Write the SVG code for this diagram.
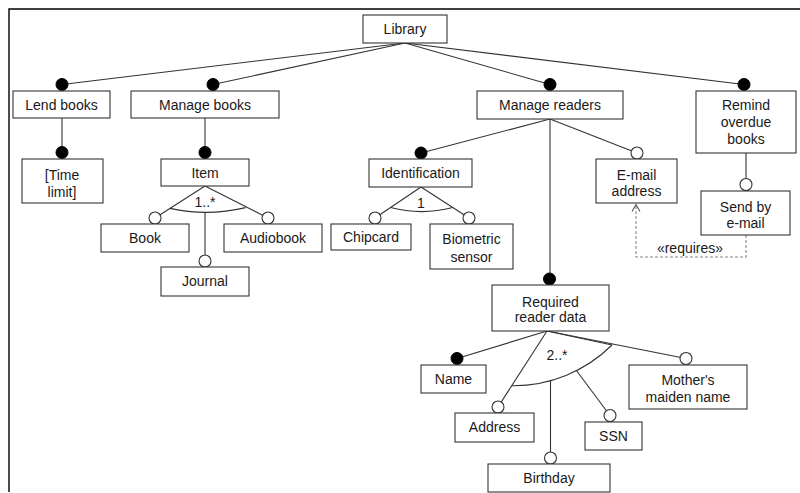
<svg xmlns="http://www.w3.org/2000/svg" width="800" height="493" viewBox="0 0 800 493">
  <style>
    .box { fill: #fff; stroke: #333; stroke-width: 1.1; }
    .lbl { font-family: "Liberation Sans", Arial, sans-serif; font-size: 14px; fill: #1a1a1a; text-anchor: middle; }
    .edge { fill: none; stroke: #333; stroke-width: 1.1; }
    .mand { fill: #000; stroke: #000; stroke-width: 1; }
    .opt { fill: #fff; stroke: #333; stroke-width: 1.1; }
    .dep { fill: none; stroke: #888; stroke-width: 1.1; stroke-dasharray: 3 2; }
    .frame { fill: none; stroke: #000; stroke-width: 1.4; }
  </style>

  <!-- frame -->
  <path class="frame" d="M9,492 V9 H800"/>

  <!-- connectors -->
  <g id="connectors">
    <!-- Library to top-level features -->
    <line class="edge" x1="405" y1="43" x2="62" y2="84.5"/>
    <line class="edge" x1="405" y1="43" x2="213" y2="84.5"/>
    <line class="edge" x1="405" y1="43" x2="550" y2="84.5"/>
    <line class="edge" x1="405" y1="43" x2="744" y2="84.5"/>

    <line class="edge" x1="62" y1="118" x2="62" y2="152.5"/>
    <line class="edge" x1="205" y1="118" x2="205" y2="152.5"/>

    <!-- Item group 1..* -->
    <line class="edge" x1="205" y1="186" x2="155" y2="218"/>
    <line class="edge" x1="205" y1="186" x2="268" y2="218"/>
    <line class="edge" x1="205" y1="212.3" x2="205" y2="261"/>
    <path class="edge" d="M170,208.4 A168,168 0 0 0 245.5,207.6"/>
    <text class="lbl" x="205" y="206.5">1..*</text>

    <!-- Manage readers children -->
    <line class="edge" x1="550" y1="119" x2="421" y2="153"/>
    <line class="edge" x1="550" y1="119" x2="637" y2="153"/>
    <line class="edge" x1="550" y1="119" x2="550" y2="279"/>

    <!-- Identification group 1 -->
    <line class="edge" x1="421" y1="187" x2="375" y2="218"/>
    <line class="edge" x1="421" y1="187" x2="469" y2="218"/>
    <path class="edge" d="M390.6,207.5 A122,122 0 0 0 452.7,207.5"/>
    <text class="lbl" x="421" y="207.5">1</text>

    <!-- Remind to Send by e-mail -->
    <line class="edge" x1="746" y1="153" x2="746" y2="184.5"/>

    <!-- requires dependency -->
    <path class="dep" d="M746,235 V257 H636 V205"/>
    <path fill="none" stroke="#555" stroke-width="1.1" d="M632,211.5 L636,204.5 L640,211.5"/>
    <text class="lbl" x="690" y="253">«requires»</text>

    <!-- Required reader data group 2..* -->
    <line class="edge" x1="547" y1="331" x2="457" y2="358.5"/>
    <line class="edge" x1="547" y1="331" x2="498" y2="407"/>
    <line class="edge" x1="547" y1="331" x2="612" y2="345"/>
    <line class="edge" x1="547" y1="331" x2="686" y2="358.5"/>
    <line class="edge" x1="550.5" y1="380.6" x2="550.5" y2="458"/>
    <line class="edge" x1="576.4" y1="370.5" x2="610" y2="415.5"/>
    <path class="edge" d="M511.7,385.7 A140,140 0 0 0 612,345"/>
    <text class="lbl" x="557" y="360">2..*</text>

    <!-- mandatory markers -->
    <circle class="mand" cx="62" cy="84.5" r="6"/>
    <circle class="mand" cx="213" cy="84.5" r="6"/>
    <circle class="mand" cx="550" cy="84.5" r="6"/>
    <circle class="mand" cx="744" cy="84.5" r="6"/>
    <circle class="mand" cx="62" cy="152.5" r="6"/>
    <circle class="mand" cx="205" cy="152.5" r="6"/>
    <circle class="mand" cx="421" cy="153" r="6"/>
    <circle class="mand" cx="549.5" cy="279" r="6"/>
    <circle class="mand" cx="457" cy="358.5" r="6"/>

    <!-- optional markers -->
    <circle class="opt" cx="155" cy="218" r="6"/>
    <circle class="opt" cx="268" cy="218" r="6"/>
    <circle class="opt" cx="205" cy="261" r="6"/>
    <circle class="opt" cx="375" cy="218" r="6"/>
    <circle class="opt" cx="469" cy="218" r="6"/>
    <circle class="opt" cx="637" cy="153" r="6"/>
    <circle class="opt" cx="746" cy="184.5" r="6"/>
    <circle class="opt" cx="498" cy="407" r="6"/>
    <circle class="opt" cx="550.5" cy="458" r="6"/>
    <circle class="opt" cx="610" cy="415.5" r="6"/>
    <circle class="opt" cx="686" cy="358.5" r="6"/>
  </g>

  <!-- nodes -->
  <g id="library"><rect class="box" x="363" y="15" width="84" height="28"/><text class="lbl" x="405" y="34">Library</text></g>
  <g id="lend-books"><rect class="box" x="13" y="91" width="97" height="27"/><text class="lbl" x="61.5" y="109.5">Lend books</text></g>
  <g id="manage-books"><rect class="box" x="131" y="91" width="148" height="27"/><text class="lbl" x="205" y="109.5">Manage books</text></g>
  <g id="manage-readers"><rect class="box" x="477" y="91" width="146" height="28"/><text class="lbl" x="550" y="110">Manage readers</text></g>
  <g id="remind-overdue"><rect class="box" x="696" y="91" width="100" height="62"/><text class="lbl" x="746" y="110">Remind</text><text class="lbl" x="746" y="127">overdue</text><text class="lbl" x="746" y="143.5">books</text></g>
  <g id="time-limit"><rect class="box" x="22" y="159" width="81" height="44"/><text class="lbl" x="62" y="180">[Time</text><text class="lbl" x="62" y="196.5">limit]</text></g>
  <g id="item"><rect class="box" x="161" y="159" width="88" height="27"/><text class="lbl" x="205" y="177.5">Item</text></g>
  <g id="book"><rect class="box" x="101" y="224" width="88" height="28"/><text class="lbl" x="145" y="243">Book</text></g>
  <g id="audiobook"><rect class="box" x="224" y="224" width="98" height="28"/><text class="lbl" x="273" y="243">Audiobook</text></g>
  <g id="journal"><rect class="box" x="161" y="267" width="88" height="29"/><text class="lbl" x="205" y="286">Journal</text></g>
  <g id="identification"><rect class="box" x="369" y="159" width="103" height="28"/><text class="lbl" x="420.5" y="178">Identification</text></g>
  <g id="chipcard"><rect class="box" x="331" y="224" width="80" height="26"/><text class="lbl" x="371" y="242">Chipcard</text></g>
  <g id="biometric-sensor"><rect class="box" x="430" y="224" width="83" height="45"/><text class="lbl" x="471.5" y="244">Biometric</text><text class="lbl" x="471.5" y="261.5">sensor</text></g>
  <g id="email-address"><rect class="box" x="596" y="159" width="81" height="44"/><text class="lbl" x="636.5" y="180">E-mail</text><text class="lbl" x="636.5" y="196">address</text></g>
  <g id="send-by-email"><rect class="box" x="701" y="191" width="89" height="44"/><text class="lbl" x="745.5" y="211.5">Send by</text><text class="lbl" x="745.5" y="227.5">e-mail</text></g>
  <g id="required-reader-data"><rect class="box" x="492" y="285" width="117" height="46"/><text class="lbl" x="550.5" y="306.5">Required</text><text class="lbl" x="550.5" y="322">reader data</text></g>
  <g id="name"><rect class="box" x="421" y="365" width="65" height="28"/><text class="lbl" x="453.5" y="384">Name</text></g>
  <g id="address"><rect class="box" x="455" y="413" width="79" height="29"/><text class="lbl" x="494.5" y="432">Address</text></g>
  <g id="birthday"><rect class="box" x="488" y="464" width="122" height="28"/><text class="lbl" x="549" y="483">Birthday</text></g>
  <g id="ssn"><rect class="box" x="585" y="422" width="57" height="28"/><text class="lbl" x="613.5" y="441">SSN</text></g>
  <g id="mothers-maiden-name"><rect class="box" x="629" y="365" width="118" height="44"/><text class="lbl" x="688" y="385">Mother's</text><text class="lbl" x="688" y="401.5">maiden name</text></g>
</svg>
